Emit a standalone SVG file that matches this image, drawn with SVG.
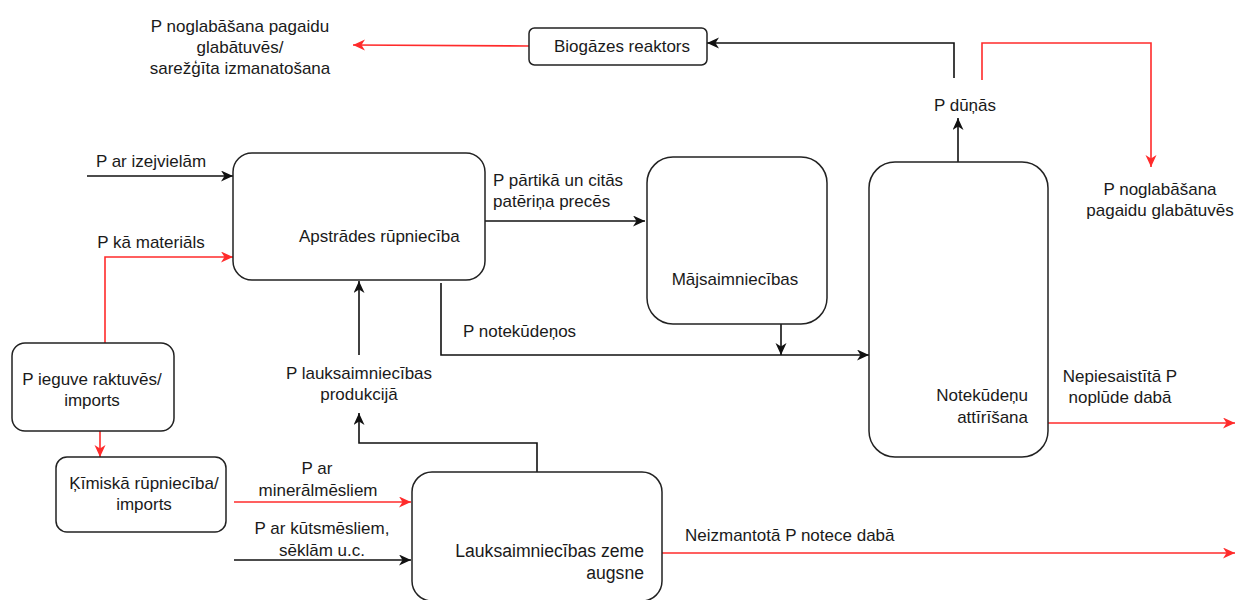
<svg xmlns="http://www.w3.org/2000/svg" width="1235" height="600" viewBox="0 0 1235 600">
<style>
.box{fill:#fff;stroke:#222;stroke-width:1.5}
.t{font-family:"Liberation Sans",Arial,sans-serif;font-size:17px;fill:#1a1a1a}
.m{text-anchor:middle}
.e{text-anchor:end}
.k{fill:none;stroke:#111;stroke-width:1.6}
.r{fill:none;stroke:#ff2b2b;stroke-width:1.6}
</style>
<defs>
<marker id="ab" markerUnits="userSpaceOnUse" markerWidth="13" markerHeight="12" refX="12" refY="5.5" orient="auto"><path d="M0,0 L12,5.5 L0,11 L3.5,5.5 Z" fill="#111"/></marker>
<marker id="ar" markerUnits="userSpaceOnUse" markerWidth="13" markerHeight="12" refX="12" refY="5.5" orient="auto"><path d="M0,0 L12,5.5 L0,11 L3.5,5.5 Z" fill="#ff2b2b"/></marker>
</defs>
<rect width="1235" height="600" fill="#fff"/>
<g id="connectors">
<path class="k" d="M87,176 L233,176" marker-end="url(#ab)"/>
<path class="r" d="M105,343 L105,257 L233,257" marker-end="url(#ar)"/>
<path class="r" d="M100,431 L100,457" marker-end="url(#ar)"/>
<path class="r" d="M234,502 L411,502" marker-end="url(#ar)"/>
<path class="k" d="M234,560 L411,560" marker-end="url(#ab)"/>
<path class="k" d="M537,472 L537,443 L359,443 L359,413" marker-end="url(#ab)"/>
<path class="k" d="M359,355 L359,281" marker-end="url(#ab)"/>
<path class="k" d="M485,221 L645,221" marker-end="url(#ab)"/>
<path class="k" d="M441,283 L441,355 L869,355" marker-end="url(#ab)"/>
<path class="k" d="M781,324 L781,355" marker-end="url(#ab)"/>
<path class="k" d="M958,162 L958,118" marker-end="url(#ab)"/>
<path class="k" d="M954,78 L954,43 L707,43" marker-end="url(#ab)"/>
<path class="r" d="M982,80 L982,43 L1151,43 L1151,167" marker-end="url(#ar)"/>
<path class="r" d="M529,46 L353,45" marker-end="url(#ar)"/>
<path class="r" d="M1048,423 L1235,423" marker-end="url(#ar)"/>
<path class="r" d="M662,553 L1235,553" marker-end="url(#ar)"/>
</g>
<g id="label-top-left">
<text class="t m" x="240" y="32">P noglabāšana pagaidu</text>
<text class="t m" x="240" y="53">glabātuvēs/</text>
<text class="t m" x="240" y="74">sarežģīta izmanatošana</text>
</g>
<g id="biogazes">
<rect class="box" x="529" y="28" width="178" height="37" rx="5.5"/>
<text class="t m" x="622" y="52">Biogāzes reaktors</text>
</g>
<g id="label-dunas"><text class="t m" x="965" y="111">P dūņās</text></g>
<g id="label-pagaidu">
<text class="t m" x="1160" y="195">P noglabāšana</text>
<text class="t m" x="1160" y="216">pagaidu glabātuvēs</text>
</g>
<g id="label-izejvielam"><text class="t m" x="151" y="167">P ar izejvielām</text></g>
<g id="label-materials"><text class="t m" x="151" y="248">P kā materiāls</text></g>
<g id="apstrades">
<rect class="box" x="233" y="153" width="252" height="127" rx="19"/>
<text class="t" x="299" y="242">Apstrādes rūpniecība</text>
</g>
<g id="label-partika">
<text class="t" x="493" y="186">P pārtikā un citās</text>
<text class="t" x="493" y="207">patēriņa precēs</text>
</g>
<g id="majsaimniecibas">
<rect class="box" x="647" y="157" width="180" height="167" rx="26"/>
<text class="t m" x="735" y="285">Mājsaimniecības</text>
</g>
<g id="label-notekudenos"><text class="t" x="463" y="337">P notekūdeņos</text></g>
<g id="notekudenu">
<rect class="box" x="869" y="162" width="179" height="295" rx="26"/>
<text class="t e" x="1028" y="401">Notekūdeņu</text>
<text class="t e" x="1028" y="423">attīrīšana</text>
</g>
<g id="label-nepiesaistita">
<text class="t m" x="1120" y="382">Nepiesaistītā P</text>
<text class="t m" x="1120" y="403">noplūde dabā</text>
</g>
<g id="ieguve">
<rect class="box" x="12" y="343" width="162" height="88" rx="13"/>
<text class="t m" x="92" y="385">P ieguve raktuvēs/</text>
<text class="t m" x="92" y="406">imports</text>
</g>
<g id="kimiska">
<rect class="box" x="56" y="457" width="170" height="75" rx="11"/>
<text class="t m" x="144" y="489">Ķīmiskā rūpniecība/</text>
<text class="t m" x="144" y="510">imports</text>
</g>
<g id="label-produkcija">
<text class="t m" x="359" y="379">P lauksaimniecības</text>
<text class="t m" x="359" y="400">produkcijā</text>
</g>
<g id="label-mineral">
<text class="t m" x="317" y="474">P ar</text>
<text class="t m" x="318" y="496">minerālmēsliem</text>
</g>
<g id="label-kutsmesli">
<text class="t m" x="322" y="534">P ar kūtsmēsliem,</text>
<text class="t m" x="322" y="556">sēklām u.c.</text>
</g>
<g id="lauksaimniecibas">
<rect class="box" x="412" y="472" width="250" height="129" rx="20"/>
<text class="t e" x="644" y="557" style="font-size:17.6px">Lauksaimniecības zeme</text>
<text class="t e" x="644" y="579" style="font-size:17.6px">augsne</text>
</g>
<g id="label-neizmantota"><text class="t" x="685" y="541">Neizmantotā P notece dabā</text></g>
</svg>
